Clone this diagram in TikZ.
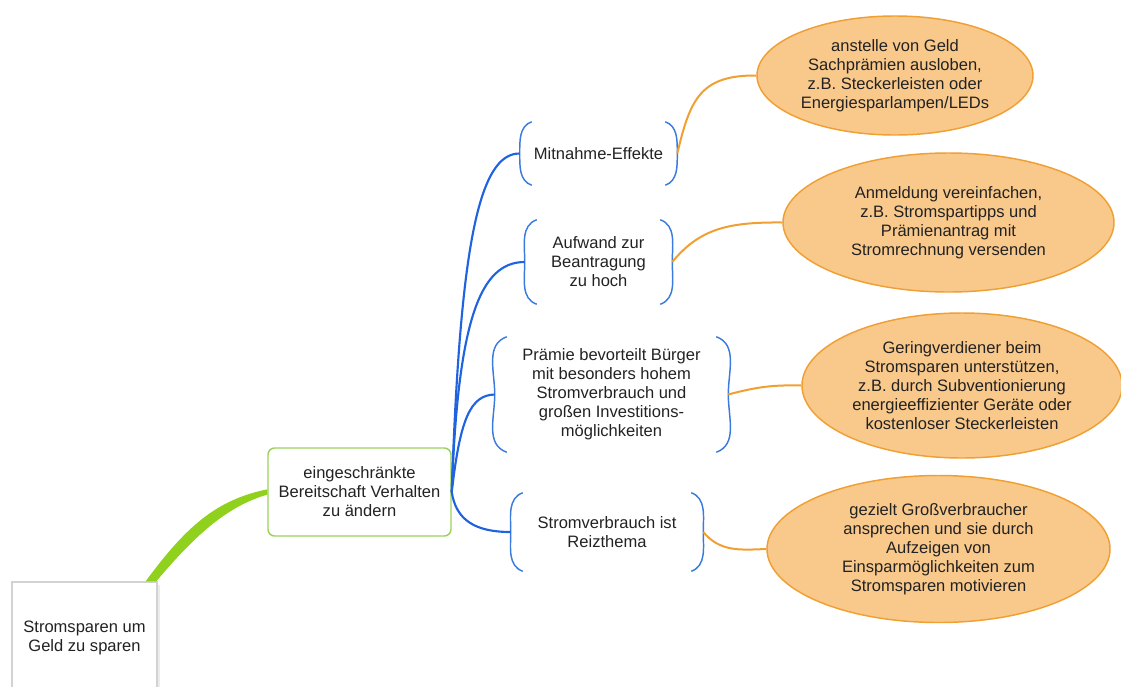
\documentclass[tikz,border=0pt]{standalone}
\usepackage{fontspec}
\setmainfont{Liberation Sans}
\usetikzlibrary{shapes.geometric}
\definecolor{txt}{HTML}{222222}
\definecolor{branchblue}{HTML}{1F63E0}
\definecolor{brackblue}{HTML}{3A7BE0}
\definecolor{leafline}{HTML}{F0A033}
\definecolor{leaffill}{HTML}{F9C98C}
\definecolor{stemgreen}{HTML}{8FD11C}
\definecolor{boxgreen}{HTML}{9CD35A}
\newcommand\bracketpair[1]{%
  \draw[brackline] ([xshift=9pt]#1.north west) to[out=200,in=90] (#1.west)
    to[out=-90,in=160] ([xshift=9pt]#1.south west);
  \draw[brackline] ([xshift=-9pt]#1.north east) to[out=-20,in=90] (#1.east)
    to[out=-90,in=20] ([xshift=-9pt]#1.south east);}
\tikzset{
  every node/.style={text=txt, font=\fontsize{12.4}{14.2}\selectfont, align=center, inner sep=0pt},
  rootbox/.style={draw=gray!35, fill=white, line width=0.8pt},
  topicbox/.style={draw=boxgreen, fill=white, rounded corners=5pt, line width=1.1pt},
  issue/.style={},
  brackline/.style={draw=brackblue, line width=1.1pt},
  idea/.style={ellipse, draw=leafline, fill=leaffill, line width=1.1pt},
  branch/.style={draw=branchblue, line width=1.6pt},
  twig/.style={draw=leafline, line width=1.5pt},
}
\begin{document}
\begin{tikzpicture}[x=0.75pt,y=-0.75pt]
\useasboundingbox (0,0) rectangle (1121,686);

% central topic and its sub-topic
\fill[gray!15] (14,585) rectangle (160,697);
\node[rootbox, minimum width=145*0.75pt, minimum height=112*0.75pt] (root) at (84.5,638) {Stromsparen um\\Geld zu sparen};
\node[topicbox, minimum width=183*0.75pt, minimum height=88*0.75pt] (topic) at (359.5,492) {eingeschränkte\\Bereitschaft Verhalten\\zu ändern};

% tapered green stem from the root to the sub-topic
\fill[stemgreen] ([xshift=-9pt]root.north east) .. controls (185,528) and (215,500) .. ([yshift=2pt]topic.west)
  -- ([yshift=-2pt]topic.west) .. controls (228,506) and (196,534) .. ([xshift=-1pt]root.north east) -- cycle;

% issues (bracketed)
\node[issue, minimum width=157*0.75pt, minimum height=63*0.75pt] (b1) at (598.5,153.5) {Mitnahme-Effekte};
\node[issue, minimum width=147*0.75pt, minimum height=84*0.75pt] (b2) at (598.5,262) {Aufwand zur\\Beantragung\\zu hoch};
\node[issue, minimum width=233*0.75pt, minimum height=115*0.75pt] (b3) at (611.5,394.5) {Prämie bevorteilt Bürger\\mit besonders hohem\\Stromverbrauch und\\großen Investitions-\\möglichkeiten};
\node[issue, minimum width=192*0.75pt, minimum height=78*0.75pt] (b4) at (607,532) {Stromverbrauch ist\\Reizthema};
\foreach \n in {b1,b2,b3,b4} {\bracketpair{\n}}

% measures (ellipses)
\node[idea, minimum width=276*0.75pt, minimum height=119*0.75pt] (e1) at (895,75.5) {anstelle von Geld\\Sachprämien ausloben,\\z.B. Steckerleisten oder\\Energiesparlampen/LEDs};
\node[idea, minimum width=331*0.75pt, minimum height=139*0.75pt] (e2) at (948.5,222.5) {Anmeldung vereinfachen,\\z.B. Stromspartipps und\\Prämienantrag mit\\Stromrechnung versenden};
\node[idea, minimum width=320*0.75pt, minimum height=145*0.75pt] (e3) at (962,385.5) {Geringverdiener beim\\Stromsparen unterstützen,\\z.B. durch Subventionierung\\energieeffizienter Geräte oder\\kostenloser Steckerleisten};
\node[idea, minimum width=343*0.75pt, minimum height=147*0.75pt] (e4) at (938.5,549) {gezielt Großverbraucher\\ansprechen und sie durch\\Aufzeigen von\\Einsparmöglichkeiten zum\\Stromsparen motivieren};

% blue branches from the sub-topic to the issues
\draw[branch] (topic.east) .. controls (460,250) and (478,153) .. (b1.west);
\draw[branch] (topic.east) .. controls (458,320) and (480,262) .. (b2.west);
\draw[branch] (topic.east) .. controls (460,420) and (470,395) .. (b3.west);
\draw[branch] (topic.east) .. controls (456,520) and (475,532) .. (b4.west);

% orange twigs from the issues to the measures
\draw[twig] (b1.east) .. controls (690,100) and (700,75) .. (e1.west);
\draw[twig] (b2.east) .. controls (700,228) and (730,222) .. (e2.west);
\draw[twig] (b3.east) .. controls (760,386) and (775,385) .. (e3.west);
\draw[twig] (b4.east) .. controls (720,552) and (740,550) .. (e4.west);
\end{tikzpicture}
\end{document}
